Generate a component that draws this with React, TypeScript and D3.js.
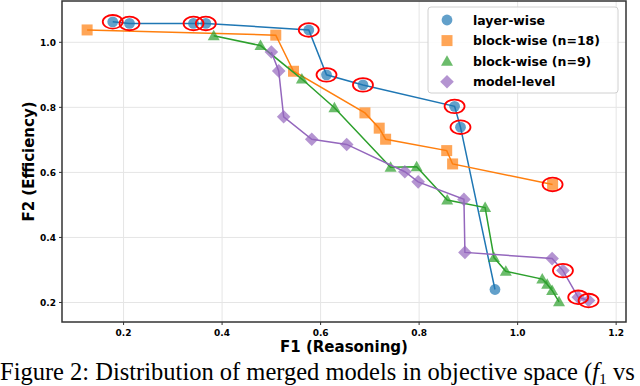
import React from "react";
import * as d3 from "d3";

// values
const layerF1 = [0.178, 0.212, 0.342, 0.367, 0.576, 0.612, 0.686, 0.872, 0.884, 0.954];
const layerF2 = [1.063, 1.058, 1.058, 1.058, 1.038, 0.900, 0.869, 0.803, 0.739, 0.240];

const block18F1 = [0.126, 0.509, 0.545, 0.690, 0.719, 0.732, 0.856, 0.868, 1.071];
const block18F2 = [1.038, 1.022, 0.911, 0.783, 0.736, 0.702, 0.667, 0.626, 0.563];

const block9F1 = [0.383, 0.478, 0.562, 0.628, 0.742, 0.795, 0.857, 0.934, 0.952, 0.976, 1.050, 1.060, 1.070, 1.084];
const block9F2 = [1.020, 0.990, 0.887, 0.799, 0.616, 0.617, 0.515, 0.492, 0.338, 0.296, 0.272, 0.256, 0.237, 0.202];

const modelF1 = [0.500, 0.515, 0.525, 0.582, 0.653, 0.771, 0.798, 0.891, 0.893, 1.070, 1.092, 1.123, 1.144];
const modelF2 = [0.970, 0.912, 0.771, 0.702, 0.686, 0.602, 0.571, 0.517, 0.354, 0.335, 0.298, 0.216, 0.206];

// indices circled in red (pareto front)
const layerPareto = [0, 1, 2, 3, 4, 5, 6, 7, 8];
const block18Pareto = [8];
const block9Pareto: number[] = [];
const modelPareto = [10, 11, 12];

const seriesNames = ["layer-wise", "block-wise (n=18)", "block-wise (n=9)", "model-level"];
const xTicks = [0.2, 0.4, 0.6, 0.8, 1.0, 1.2];
const yTicks = [0.2, 0.4, 0.6, 0.8, 1.0];

const W = 640;
const H = 386;
const plot = { left: 62, right: 626, top: 1, bottom: 322 };

const font = "'DejaVu Sans', sans-serif";

function markerPath(kind: string) {
  if (kind === "circle") return d3.symbol(d3.symbolCircle, Math.PI * 5.4 * 5.4)()!;
  if (kind === "square") return "M-5.5,-5.5H5.5V5.5H-5.5Z";
  if (kind === "triangle") return "M0,-6L6,4.5L-6,4.5Z";
  return "M0,-6.8L6.8,0L0,6.8L-6.8,0Z";
}

export default function App() {
  const x = d3.scaleLinear().domain([0.075, 1.22]).range([plot.left, plot.right]);
  const y = d3.scaleLinear().domain([0.14, 1.127]).range([plot.bottom, plot.top]);

  const series = [
    { name: seriesNames[0], xs: layerF1, ys: layerF2, color: "#1f77b4", kind: "circle", pareto: layerPareto },
    { name: seriesNames[1], xs: block18F1, ys: block18F2, color: "#ff7f0e", kind: "square", pareto: block18Pareto },
    { name: seriesNames[2], xs: block9F1, ys: block9F2, color: "#2ca02c", kind: "triangle", pareto: block9Pareto },
    { name: seriesNames[3], xs: modelF1, ys: modelF2, color: "#9467bd", kind: "diamond", pareto: modelPareto },
  ];

  const line = d3
    .line<[number, number]>()
    .x((d) => x(d[0]))
    .y((d) => y(d[1]));

  return (
    <svg
      width={W}
      height={H}
      style={{ position: "absolute", left: 0, top: 0, background: "#fff" }}
    >
      {/* grid */}
      {xTicks.map((t) => (
        <line key={"gx" + t} x1={x(t)} x2={x(t)} y1={plot.top} y2={plot.bottom} stroke="#e5e5e5" strokeWidth={1} />
      ))}
      {yTicks.map((t) => (
        <line key={"gy" + t} x1={plot.left} x2={plot.right} y1={y(t)} y2={y(t)} stroke="#e5e5e5" strokeWidth={1} />
      ))}

      {/* series */}
      {series.map((s) => {
        const pts: [number, number][] = s.xs.map((v, i) => [v, s.ys[i]]);
        return (
          <g key={s.name}>
            <path d={line(pts)!} fill="none" stroke={s.color} strokeWidth={1.5} />
            {pts.map((p, i) => (
              <path
                key={i}
                d={markerPath(s.kind)}
                transform={`translate(${x(p[0])},${y(p[1])})`}
                fill={s.color}
                fillOpacity={0.7}
              />
            ))}
          </g>
        );
      })}

      {/* red ellipses */}
      {series.map((s) =>
        s.pareto.map((i) => (
          <ellipse
            key={s.name + "r" + i}
            cx={x(s.xs[i])}
            cy={y(s.ys[i])}
            rx={10}
            ry={6.8}
            fill="none"
            stroke="#ff0000"
            strokeWidth={1.8}
          />
        ))
      )}

      {/* frame */}
      <rect
        x={plot.left}
        y={plot.top}
        width={plot.right - plot.left}
        height={plot.bottom - plot.top}
        fill="none"
        stroke="#333"
        strokeWidth={1.5}
      />

      {/* ticks */}
      {xTicks.map((t) => (
        <g key={"tx" + t}>
          <line x1={x(t)} x2={x(t)} y1={plot.bottom} y2={plot.bottom + 3} stroke="#333" />
          <text x={x(t)} y={plot.bottom + 14} textAnchor="middle" fontFamily={font} fontWeight="bold" fontSize={9}>
            {t.toFixed(1)}
          </text>
        </g>
      ))}
      {yTicks.map((t) => (
        <g key={"ty" + t}>
          <line x1={plot.left - 3} x2={plot.left} y1={y(t)} y2={y(t)} stroke="#333" />
          <text x={plot.left - 6} y={y(t) + 3.2} textAnchor="end" fontFamily={font} fontWeight="bold" fontSize={9}>
            {t.toFixed(1)}
          </text>
        </g>
      ))}

      {/* axis labels */}
      <text x={(plot.left + plot.right) / 2} y={352} textAnchor="middle" fontFamily={font} fontWeight="bold" fontSize={15}>
        F1 (Reasoning)
      </text>
      <text
        transform={`translate(34,${(plot.top + plot.bottom) / 2}) rotate(-90)`}
        textAnchor="middle"
        fontFamily={font}
        fontWeight="bold"
        fontSize={15}
      >
        F2 (Efficiency)
      </text>

      {/* legend */}
      <rect x={428} y={7} width={190} height={86} rx={3} fill="#fff" fillOpacity={0.85} stroke="#d0d0d0" />
      {series.map((s, i) => (
        <g key={"lg" + i} transform={`translate(447,${20 + i * 20.6})`}>
          <path d={markerPath(s.kind)} fill={s.color} fillOpacity={0.7} />
          <text x={26} y={4.5} fontFamily={font} fontWeight="bold" fontSize={12.5}>
            {s.name}
          </text>
        </g>
      ))}

      {/* caption, clipped at the right edge as in the source figure */}
      <text x={0} y={380} fontFamily="'Liberation Serif', serif" fontSize={24.5}>
        Figure 2: Distribution of merged models in objective space (
        <tspan fontStyle="italic">f</tspan>
        <tspan fontSize={15.5} dy={4}>1</tspan>
        <tspan dy={-4}> vs</tspan>
      </text>
    </svg>
  );
}
